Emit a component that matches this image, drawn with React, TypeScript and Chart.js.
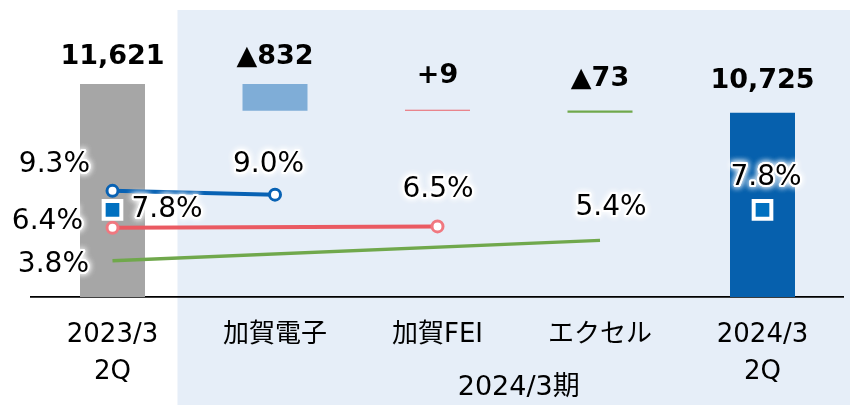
import React, { useEffect, useRef } from 'react';
import { Chart, registerables } from 'chart.js';

Chart.register(...registerables);

// ---- data ----
const categories: (string | string[])[] = [['2023/3', '2Q'], '加賀電子', '加賀FEI', 'エクセル', ['2024/3', '2Q']];
const startValue = 11621;
const changes = [-832, 9, -73];
const endValue = 10725;
const barLabels = ['11,621', '▲832', '+9', '▲73', '10,725'];
const blueMargin = [9.3, 9.0, null, null, null];
const redMargin = [6.4, null, 6.5, null, null];
const greenMargin = [3.8, null, null, 5.4, null];
const totalMargin = [7.8, null, null, null, 7.8];
const periodLabel = '2024/3期';

// ---- scale settings ----
const AMOUNT_MIN = 5000;
const AMOUNT_MAX = 13550;
const PCT_MIN = 0.94;
const PCT_MAX = 22.6;

// ---- styles ----
const FONT = '"DejaVu Sans", "Noto Sans CJK JP", sans-serif';
const barColors = ['#a6a6a6', '#7fadd7', '#ea6068', '#70a84c', '#0660ad'];
const BAR_LABEL_LIFT = [27, 27, 35, 32, 32];

type LP = { dx: number; dy: number; align: CanvasTextAlign } | null;
const bluePos: LP[] = [{ dx: -22.5, dy: -26, align: 'right' }, { dx: -6.5, dy: -30, align: 'center' }, null, null, null];
const redPos: LP[] = [{ dx: -29.5, dy: -6, align: 'right' }, null, { dx: 0.5, dy: -37, align: 'center' }, null, null];
const greenPos: LP[] = [{ dx: -23.5, dy: 4, align: 'right' }, null, null, { dx: 11, dy: -33, align: 'center' }, null];
const totalPos: LP[] = [{ dx: 19, dy: 0, align: 'left' }, null, null, null, { dx: 3.5, dy: -32, align: 'center' }];

function buildBars(): [number, number][] {
  const bars: [number, number][] = [[AMOUNT_MIN, startValue]];
  let running = startValue;
  for (const c of changes) {
    const next = running + c;
    bars.push([Math.min(running, next), Math.max(running, next)]);
    running = next;
  }
  bars.push([AMOUNT_MIN, endValue]);
  return bars;
}

const overlayPlugin = {
  id: 'overlay',
  beforeDraw(chart: any) {
    const { ctx, scales } = chart;
    const x = scales.x;
    const left = x.getPixelForValue(0.4);
    ctx.save();
    ctx.fillStyle = '#ffffff';
    ctx.fillRect(0, 0, chart.width, chart.height);
    ctx.fillStyle = '#e6eef8';
    ctx.fillRect(left, 10, chart.width - left, chart.height - 10);
    ctx.restore();
  },
  afterDraw(chart: any) {
    const { ctx, scales } = chart;
    const x = scales.x;
    const y = scales.y;
    ctx.save();
    // bar value labels
    const bars = buildBars();
    ctx.font = `bold 27px ${FONT}`;
    ctx.fillStyle = '#000';
    ctx.textAlign = 'center';
    ctx.textBaseline = 'middle';
    bars.forEach((b, i) => {
      const top = y.getPixelForValue(Math.max(b[0], b[1]));
      ctx.fillText(barLabels[i], x.getPixelForValue(i), top - BAR_LABEL_LIFT[i]);
    });
    // percentage labels
    ctx.font = `28px ${FONT}`;
    chart.data.datasets.forEach((ds: any, di: number) => {
      if (!ds.labelPos) return;
      const meta = chart.getDatasetMeta(di);
      ds.data.forEach((v: number | null, i: number) => {
        const p = ds.labelPos[i];
        if (v == null || !p) return;
        const el = meta.data[i];
        const tx = el.x + p.dx;
        const ty = el.y + p.dy;
        const text = v.toFixed(1) + '%';
        ctx.textAlign = p.align;
        ctx.textBaseline = 'middle';
        ctx.save();
        ctx.shadowColor = 'rgba(255,255,255,1)';
        ctx.shadowBlur = 6;
        ctx.strokeStyle = 'rgba(255,255,255,0.95)';
        ctx.lineWidth = 4;
        ctx.lineJoin = 'round';
        ctx.strokeText(text, tx, ty);
        ctx.strokeText(text, tx, ty);
        ctx.restore();
        ctx.fillStyle = '#000';
        ctx.fillText(text, tx, ty);
      });
    });
    // period label
    ctx.font = `27px ${FONT}`;
    ctx.fillStyle = '#000';
    ctx.textAlign = 'center';
    ctx.textBaseline = 'middle';
    const cx = (x.getPixelForValue(1) + x.getPixelForValue(4)) / 2;
    ctx.fillText(periodLabel, cx, 388);
    ctx.restore();
  },
};

export default function App() {
  const ref = useRef<HTMLCanvasElement | null>(null);
  useEffect(() => {
    if (!ref.current) return;
    const chart = new Chart(ref.current, {
      type: 'bar',
      data: {
        labels: categories as any,
        datasets: [
          {
            type: 'line',
            data: totalMargin as any,
            yAxisID: 'y2',
            showLine: false,
            pointStyle: 'rect',
            pointRadius: 12.5,
            pointBackgroundColor: '#0070c0',
            pointBorderColor: '#ffffff',
            pointBorderWidth: 4,
            order: 0,
            labelPos: totalPos,
          } as any,
          {
            type: 'line',
            data: blueMargin as any,
            yAxisID: 'y2',
            borderColor: '#0862b4',
            borderWidth: 4,
            pointRadius: 5.5,
            pointBackgroundColor: '#ffffff',
            pointBorderColor: '#0862b4',
            pointBorderWidth: 3,
            spanGaps: true,
            order: 1,
            labelPos: bluePos,
          } as any,
          {
            type: 'line',
            data: redMargin as any,
            yAxisID: 'y2',
            borderColor: '#ea5a62',
            borderWidth: 4,
            pointRadius: 5.5,
            pointBackgroundColor: '#ffffff',
            pointBorderColor: '#f07880',
            pointBorderWidth: 3,
            spanGaps: true,
            order: 2,
            labelPos: redPos,
          } as any,
          {
            type: 'line',
            data: greenMargin as any,
            yAxisID: 'y2',
            borderColor: '#70a84c',
            borderWidth: 3.5,
            pointRadius: 0,
            spanGaps: true,
            order: 3,
            labelPos: greenPos,
          } as any,
          {
            type: 'bar',
            data: buildBars() as any,
            yAxisID: 'y',
            backgroundColor: barColors,
            barPercentage: 0.4,
            categoryPercentage: 1,
            minBarLength: 1,
            order: 10,
          } as any,
        ],
      },
      options: {
        responsive: false,
        animation: false,
        layout: { autoPadding: false, padding: { left: 31.25, right: 6.25, top: 22, bottom: 0 } },
        plugins: { legend: { display: false }, tooltip: { enabled: false } },
        scales: {
          x: {
            grid: { display: false, drawTicks: false },
            border: { display: true, color: '#000', width: 1.8 },
            ticks: {
              color: '#000',
              padding: 20,
              font: { family: FONT, size: 26, lineHeight: '37px' as any },
              maxRotation: 0,
              autoSkip: false,
            },
            afterFit: (axis: any) => {
              axis.height = 108;
              axis.paddingLeft = 0;
              axis.paddingRight = 0;
            },
          },
          y: { display: false, min: AMOUNT_MIN, max: AMOUNT_MAX },
          y2: { display: false, min: PCT_MIN, max: PCT_MAX },
        },
      },
      plugins: [overlayPlugin],
    });
    return () => chart.destroy();
  }, []);
  return (
    <div style={{ position: 'fixed', left: 0, top: 0, width: 850, height: 405, background: '#fff' }}>
      <canvas ref={ref} width={850} height={405} />
    </div>
  );
}
